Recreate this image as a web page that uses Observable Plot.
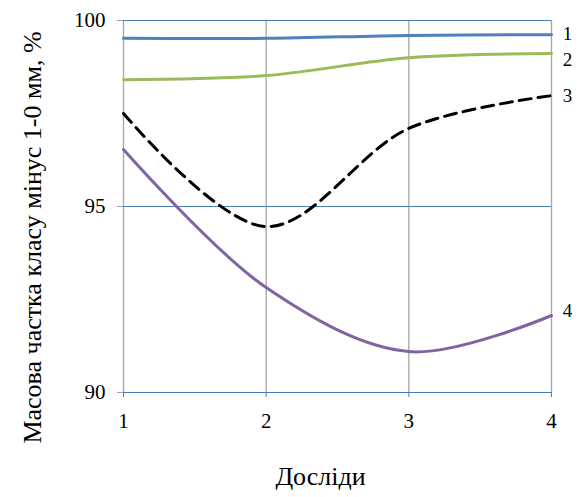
<!DOCTYPE html>
<html>
<head>
<meta charset="utf-8">
<script src="https://cdn.jsdelivr.net/npm/d3@7"></script>
<script src="https://cdn.jsdelivr.net/npm/@observablehq/plot@0.6"></script>
<style>
  body { margin: 0; background: #fff; }
  #chart { width: 579px; height: 497px; }
  #chart svg, #chart svg text { font-family: "Liberation Serif", "DejaVu Serif", serif !important; }
</style>
</head>
<body>
<div id="chart"></div>
<script>
const experiments = [1, 2, 3, 4];
const series1 = [99.52, 99.52, 99.6, 99.62];
const series2 = [98.41, 98.52, 99.0, 99.11];
const series3 = [97.5, 94.46, 97.1, 97.98];
const series4 = [96.53, 92.82, 91.1, 92.07];
const seriesNames = ["1", "2", "3", "4"];
const labelValues = [99.65, 98.94, 97.98, 92.2];
const colors = ["#4f81bd", "#9bbb59", "#000000", "#8064a2"];
const yTicks = [90, 95, 100];
const xTicks = [1, 2, 3, 4];
const xLabel = "Досліди";
const yLabel = "Масова частка класу мінус 1-0 мм, %";

const allSeries = [series1, series2, series3, series4];
const rows = allSeries.flatMap((s, i) => s.map((v, j) => ({x: experiments[j], y: v, s: seriesNames[i]})));
const ends = seriesNames.map((n, i) => ({x: experiments[experiments.length - 1], y: labelValues[i], s: n}));

const chart = Plot.plot({
  width: 579,
  height: 497,
  marginLeft: 123,
  marginRight: 28,
  marginTop: 20,
  marginBottom: 105,
  style: {background: "#fff"},
  x: {domain: [1, 4]},
  y: {domain: [90, 100]},
  color: {domain: seriesNames, range: colors},
  marks: [
    Plot.ruleX(xTicks, {stroke: "#a6a6a6", strokeWidth: 1.3}),
    Plot.ruleY(yTicks, {stroke: "#4a7ebb", strokeWidth: 1.2}),
    Plot.axisY({ticks: yTicks, tickSize: 6, tickPadding: 12, fontSize: 21, stroke: "#a6a6a6", fill: "#000", label: null}),
    Plot.axisX({ticks: xTicks, tickFormat: "d", tickSize: 5, tickPadding: 16, fontSize: 21, stroke: "#4a7ebb", fill: "#000", label: null}),
    Plot.line(rows.filter(d => d.s !== "3"), {x: "x", y: "y", z: "s", stroke: "s", strokeWidth: 3, curve: "catmull-rom"}),
    Plot.line(rows.filter(d => d.s === "3"), {x: "x", y: "y", stroke: "#000", strokeWidth: 3, strokeDasharray: "12,7", curve: "catmull-rom"}),
    Plot.text(ends, {x: "x", y: "y", text: "s", dx: 16, fontSize: 19, fill: "#000"}),
    Plot.text([xLabel], {frameAnchor: "bottom", dx: -17, dy: 92, fontSize: 26, fill: "#000"}),
    Plot.text([yLabel], {frameAnchor: "left", textAnchor: "middle", dx: -91, dy: 31, rotate: -90, fontSize: 26, fill: "#000"})
  ]
});
document.getElementById("chart").appendChild(chart);
</script>
</body>
</html>
